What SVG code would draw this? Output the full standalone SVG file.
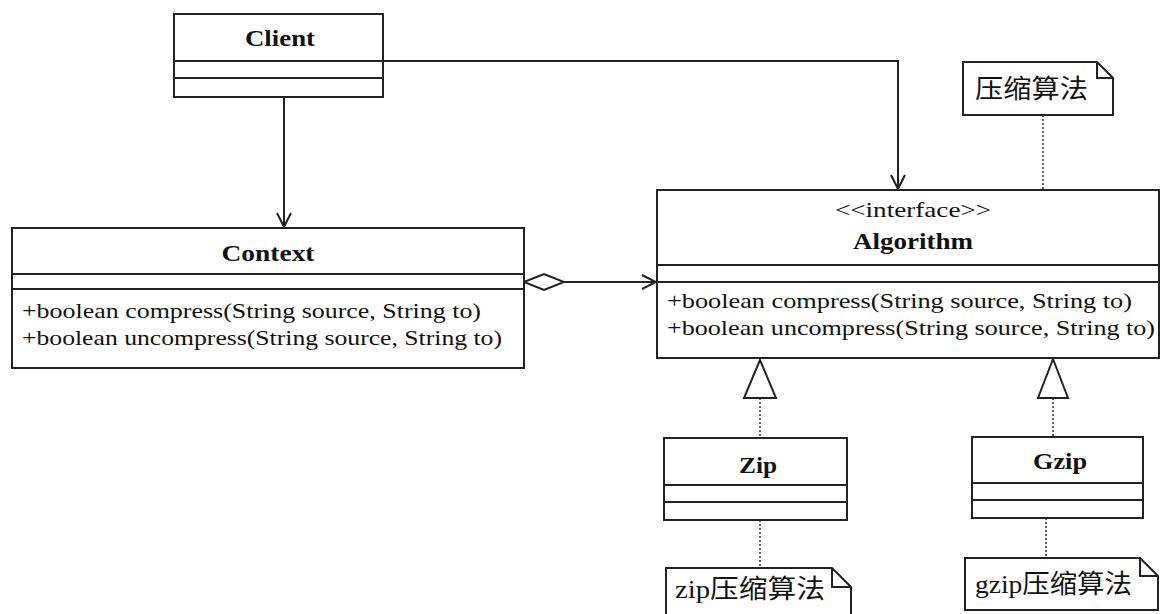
<svg xmlns="http://www.w3.org/2000/svg" width="1160" height="614" viewBox="0 0 1160 614">
<style>
.box{fill:#fff;stroke:#222;stroke-width:2}
.ln{fill:none;stroke:#222;stroke-width:2}
.dot{fill:none;stroke:#333;stroke-width:1.5;stroke-dasharray:2 2}
.t{font-family:"Liberation Serif","Noto Sans CJK SC",serif;fill:#111;font-size:21px}
.b{font-weight:bold;font-size:23px;text-anchor:middle}
.cjk{font-size:26px}
</style>
<defs>
<marker id="open" markerUnits="userSpaceOnUse" markerWidth="18" markerHeight="18" refX="16" refY="9" orient="auto">
<path d="M2,2 L16,9 L2,16" fill="none" stroke="#222" stroke-width="2"/>
</marker>
</defs>
<rect width="1160" height="614" fill="#fff"/>
<g id="connectors">
<path class="ln" d="M284,97 V227" marker-end="url(#open)"/>
<path class="ln" d="M383,61 H898 V189" marker-end="url(#open)"/>
<path class="box" d="M524,282 L544,274 L564,282 L544,290 Z"/>
<path class="ln" d="M564,282 H656" marker-end="url(#open)"/>
<path class="dot" d="M760,398 V438"/>
<polygon class="box" points="760,360 744,398 776,398"/>
<path class="dot" d="M1053,398 V437"/>
<polygon class="box" points="1053,359 1038,398 1068,398"/>
<path class="dot" d="M1043,115 V190"/>
<path class="dot" d="M760,520 V568"/>
<path class="dot" d="M1046,518 V558"/>
</g>
<g id="client">
<rect class="box" x="174" y="14" width="209" height="83"/>
<path class="ln" d="M174,61 H383 M174,78 H383"/>
<text class="t b" x="280" y="46" textLength="70" lengthAdjust="spacingAndGlyphs">Client</text>
</g>
<g id="context">
<rect class="box" x="12" y="228" width="512" height="140"/>
<path class="ln" d="M12,274 H524 M12,289 H524"/>
<text class="t b" x="268" y="261" textLength="93" lengthAdjust="spacingAndGlyphs">Context</text>
<text class="t" x="22" y="318" textLength="459" lengthAdjust="spacingAndGlyphs">+boolean compress(String source, String to)</text>
<text class="t" x="22" y="345" textLength="480" lengthAdjust="spacingAndGlyphs">+boolean uncompress(String source, String to)</text>
</g>
<g id="algorithm">
<rect class="box" x="657" y="190" width="502" height="168"/>
<path class="ln" d="M657,265 H1159 M657,282 H1159"/>
<text class="t" x="913" y="217" text-anchor="middle" textLength="156" lengthAdjust="spacingAndGlyphs">&lt;&lt;interface&gt;&gt;</text>
<text class="t b" x="913" y="249" textLength="120" lengthAdjust="spacingAndGlyphs">Algorithm</text>
<text class="t" x="667" y="308" textLength="465" lengthAdjust="spacingAndGlyphs">+boolean compress(String source, String to)</text>
<text class="t" x="667" y="335" textLength="488" lengthAdjust="spacingAndGlyphs">+boolean uncompress(String source, String to)</text>
</g>
<g id="zip">
<rect class="box" x="664" y="438" width="183" height="82"/>
<path class="ln" d="M664,485 H847 M664,502 H847"/>
<text class="t b" x="758" y="473" textLength="38" lengthAdjust="spacingAndGlyphs">Zip</text>
</g>
<g id="gzip">
<rect class="box" x="972" y="437" width="171" height="81"/>
<path class="ln" d="M972,483 H1143 M972,500 H1143"/>
<text class="t b" x="1060" y="469" textLength="54" lengthAdjust="spacingAndGlyphs">Gzip</text>
</g>
<g id="note-top">
<path class="box" d="M963,62 H1097 L1113,78 V115 H963 Z"/>
<path class="ln" d="M1097,62 V78 H1113" stroke-width="1.5"/>
<text class="t cjk" x="975" y="98" textLength="113" lengthAdjust="spacingAndGlyphs">压缩算法</text>
</g>
<g id="note-zip">
<path class="box" d="M666,568 H832 L851,587 V616 H666 Z"/>
<path class="ln" d="M832,568 V587 H851" stroke-width="1.5"/>
<text class="t cjk" x="675" y="598" textLength="150" lengthAdjust="spacingAndGlyphs">zip压缩算法</text>
</g>
<g id="note-gzip">
<path class="box" d="M965,558 H1140 L1158,576 V610 H965 Z"/>
<path class="ln" d="M1140,558 V576 H1158" stroke-width="1.5"/>
<text class="t cjk" x="975" y="593" textLength="157" lengthAdjust="spacingAndGlyphs">gzip压缩算法</text>
</g>
</svg>
